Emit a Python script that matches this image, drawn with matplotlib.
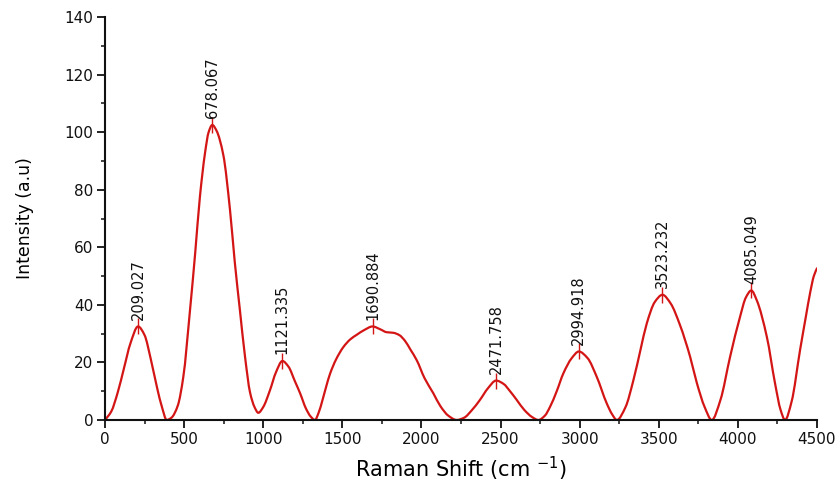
import matplotlib
matplotlib.use("Agg")
import matplotlib.pyplot as plt
import numpy as np
from matplotlib.path import Path
from matplotlib.patches import PathPatch
from matplotlib.ticker import MultipleLocator

plt.rcParams["font.family"] = ["DejaVu Sans"]

# Raman spectrum sampled along the shift axis
shift = [
    0, 40, 80, 120, 160, 209.027, 250, 290, 330, 360, 390,
    420, 460, 495, 537, 570, 600, 632, 655, 678.067, 705, 748, 790, 820, 853,
    885, 917, 945, 969, 1000, 1043, 1080, 1121.335, 1160, 1200, 1233, 1270,
    1300, 1327, 1350, 1375, 1400, 1422, 1460, 1506, 1550, 1591, 1640,
    1690.884, 1740, 1780, 1822, 1860, 1896, 1930, 1970, 2020, 2075, 2120,
    2170, 2223, 2270, 2320, 2370, 2420, 2471.758, 2520, 2560, 2602, 2650,
    2700, 2739, 2780, 2813, 2855, 2897, 2950, 2994.918, 3050, 3108, 3171,
    3205, 3235, 3290, 3340, 3385, 3424, 3475, 3523.232, 3575, 3634, 3698,
    3740, 3790, 3835, 3890, 3951, 4014, 4050, 4085.049, 4120, 4183, 4235,
    4270, 4298, 4340, 4393, 4430, 4456, 4480, 4500,
]
intensity = [
    0, 3, 9.5, 18, 26.5, 32.5, 29.5, 21, 11, 4.5, 0,
    0.8, 5, 15, 38, 58, 77.6, 92.7, 100, 102.5, 100.5, 92, 73, 55, 38,
    22, 9.5, 4.5, 2.5, 4.5, 10.4, 16.5, 20.5, 18.5, 13.5, 9.3, 4,
    1.2, 0, 2.5, 7, 12, 16, 21, 25.3, 28, 29.6, 31.3,
    32.5, 31.5, 30.5, 30.3, 29.5, 27.5, 24.5, 20.8, 14.5, 9.3, 4.8,
    1.5, 0, 0.8, 3.5, 7, 11, 13.7, 12.5, 10, 7, 3.5,
    1, 0, 1.5, 4.6, 10, 16.2, 21.5, 23.8, 21.5, 15, 5.8,
    2, 0, 4.5, 13.9, 24.5, 33.5, 41, 43.5, 40.5, 33, 22,
    13, 4.5, 0, 7, 22, 35.9, 42.5, 45, 41.5, 28.9, 12.7,
    3.5, 0, 6.5, 24.3, 36, 44, 50, 52.7,
]

# Labelled peaks
peak_shift = [209.027, 678.067, 1121.335, 1690.884, 2471.758, 2994.918, 3523.232, 4085.049]
peak_intensity = [32.5, 102.5, 20.5, 32.5, 13.7, 23.8, 43.5, 45]
peak_labels = ["209.027", "678.067", "1121.335", "1690.884", "2471.758", "2994.918", "3523.232", "4085.049"]

x_ticks = [0, 500, 1000, 1500, 2000, 2500, 3000, 3500, 4000, 4500]
y_ticks = [0, 20, 40, 60, 80, 100, 120, 140]

red = "#d41515"


def smooth_path(xs, ys):
    """Cubic Bezier path through the samples, with shape-preserving tangents."""
    x = np.asarray(xs, float)
    y = np.asarray(ys, float)
    h = np.diff(x)
    d = np.diff(y) / h
    m = np.zeros_like(y)
    m[0], m[-1] = d[0], d[-1]
    for i in range(1, len(x) - 1):
        if d[i - 1] * d[i] > 0:
            w1 = 2 * h[i] + h[i - 1]
            w2 = h[i] + 2 * h[i - 1]
            m[i] = (w1 + w2) / (w1 / d[i - 1] + w2 / d[i])
    verts = [(x[0], y[0])]
    codes = [Path.MOVETO]
    for i in range(len(x) - 1):
        verts += [(x[i] + h[i] / 3, y[i] + m[i] * h[i] / 3),
                  (x[i + 1] - h[i] / 3, y[i + 1] - m[i + 1] * h[i] / 3),
                  (x[i + 1], y[i + 1])]
        codes += [Path.CURVE4] * 3
    return Path(verts, codes)


fig = plt.figure(figsize=(8.4, 4.86), dpi=100)
ax = fig.add_axes([0.125, 0.1358, 0.8476, 0.8292])

ax.add_patch(PathPatch(smooth_path(shift, intensity), facecolor="none",
                       edgecolor=red, linewidth=1.6, capstyle="round",
                       joinstyle="round"))
ax.plot(peak_shift, peak_intensity, linestyle="none", marker="|",
        markersize=11, markeredgewidth=1.0, color=red)

for px, py, lab in zip(peak_shift, peak_intensity, peak_labels):
    ax.annotate(lab, xy=(px, py), xytext=(0, 5), textcoords="offset points",
                rotation=90, ha="center", va="bottom", fontsize=10.5,
                color="#111111")

ax.set_xlim(0, 4500)
ax.set_ylim(0, 140)
ax.set_xticks(x_ticks)
ax.set_yticks(y_ticks)
ax.xaxis.set_minor_locator(MultipleLocator(250))
ax.yaxis.set_minor_locator(MultipleLocator(10))

for side in ("top", "right"):
    ax.spines[side].set_visible(False)
for side in ("left", "bottom"):
    ax.spines[side].set_linewidth(1.5)
    ax.spines[side].set_color("#111111")

ax.tick_params(which="major", direction="out", length=5.5, width=1.3,
               labelsize=11, colors="#111111", pad=3)
ax.tick_params(which="minor", direction="out", length=3, width=1.1,
               colors="#111111")

ax.set_xlabel("Raman Shift (cm $^{-1}$)", fontsize=15, labelpad=6)
ax.set_ylabel("Intensity (a.u)", fontsize=12.5, labelpad=22)

fig.savefig("out.png", dpi=100)
